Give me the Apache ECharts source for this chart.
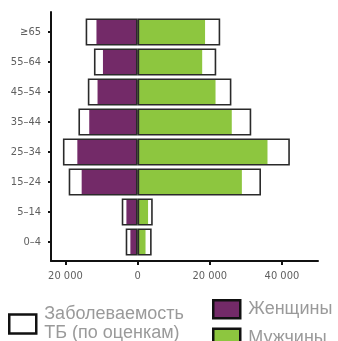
<!DOCTYPE html>
<html>
<head>
<meta charset="utf-8">
<script src="https://cdn.jsdelivr.net/npm/echarts@6/dist/echarts.min.js"></script>
<style>
  html, body { margin: 0; padding: 0; background: #fff; }
  #chart { width: 338px; height: 341px; }
</style>
</head>
<body>
<div id="chart"></div>
<script>
  // возрастные группы (снизу вверх)
  const ageGroups = ['0–4', '5–14', '15–24', '25–34', '35–44', '45–54', '55–64', '≥65'];
  // зарегистрированные случаи
  const women = [2000, 3100, 15500, 16700, 13400, 11100, 9600, 11400];
  const men = [2200, 2900, 28900, 36000, 26100, 21600, 17900, 18700];
  // заболеваемость по оценкам
  const estWomen = [3300, 4400, 19100, 20700, 16400, 13800, 12100, 14400];
  const estMen = [3900, 4200, 34200, 42200, 31500, 26000, 21800, 22900];
  const xTicks = [-20000, 0, 20000, 40000];

  const estName = 'Заболеваемость ТБ (по оценкам)';
  const narrow = "'Liberation Sans Narrow', 'DejaVu Sans Condensed', 'Liberation Sans', sans-serif";
  const labelColor = '#606060';
  const legendColor = '#9a9a9a';

  const fmt = (v) => {
    const s = String(Math.abs(v));
    return s.replace(/\B(?=(\d{3})+(?!\d))/g, ' ');
  };

  const myChart = echarts.init(document.getElementById('chart'));

  myChart.setOption({
    animation: false,
    grid: [
      // оси
      { left: 51, right: 20, top: 12, bottom: 80 },
      // столбцы
      { left: 51, right: 20, top: 17, bottom: 84 },
    ],
    xAxis: [
      {
        gridIndex: 0,
        type: 'value',
        min: -24000,
        max: 50000,
        splitLine: { show: false },
        axisLine: { show: true, onZero: false, lineStyle: { color: '#111', width: 2 } },
        axisTick: {
          show: true,
          length: 4,
          customValues: xTicks,
          lineStyle: { color: '#111', width: 2 },
        },
        axisLabel: {
          customValues: xTicks,
          formatter: fmt,
          color: labelColor,
          fontSize: 11,
          fontFamily: narrow,
          margin: 10,
        },
      },
      {
        gridIndex: 1,
        type: 'value',
        min: -24000,
        max: 50000,
        show: false,
      },
    ],
    yAxis: [
      {
        gridIndex: 0,
        type: 'value',
        min: 0,
        max: 1,
        axisLine: { show: true, onZero: false, lineStyle: { color: '#111', width: 2 } },
        axisTick: { show: false },
        axisLabel: { show: false },
        splitLine: { show: false },
      },
      {
        gridIndex: 1,
        type: 'category',
        data: ageGroups,
        axisLine: { show: false, onZero: false },
        axisTick: {
          show: true,
          alignWithLabel: true,
          length: 3,
          lineStyle: { color: '#111', width: 2 },
        },
        axisLabel: {
          color: labelColor,
          fontSize: 11,
          fontFamily: narrow,
          margin: 10,
        },
      },
      {
        gridIndex: 1,
        type: 'category',
        data: ageGroups,
        position: 'left',
        show: false,
      },
    ],
    legend: [
      {
        left: 8,
        top: 305,
        height: 60,
        padding: 0,
        selectedMode: false,
        itemWidth: 27,
        itemHeight: 19,
        icon: 'rect',
        data: [
          {
            name: estName,
            itemStyle: { color: '#fff', borderColor: '#111', borderWidth: 2.5 },
          },
        ],
        formatter: () => 'Заболеваемость\nТБ (по оценкам)',
        textStyle: {
          color: legendColor,
          fontSize: 18,
          lineHeight: 19,
          fontFamily: "'Liberation Sans', Arial, sans-serif",
          padding: [0, 0, 0, 3],
        },
      },
      {
        left: 212,
        top: 299,
        height: 80,
        padding: 0,
        orient: 'vertical',
        selectedMode: false,
        itemWidth: 27,
        itemHeight: 18,
        itemGap: 8,
        icon: 'rect',
        data: [
          {
            name: 'Женщины',
            itemStyle: { color: '#732a68', borderColor: '#111', borderWidth: 2.5 },
          },
          {
            name: 'Мужчины',
            itemStyle: { color: '#8dc63f', borderColor: '#111', borderWidth: 2.5 },
          },
        ],
        textStyle: {
          color: legendColor,
          fontSize: 18,
          lineHeight: 20,
          fontFamily: "'Liberation Sans', Arial, sans-serif",
          padding: [0, 0, 0, 3],
        },
      },
    ],
    series: [
      {
        name: 'Женщины',
        type: 'bar',
        stack: 'cases',
        xAxisIndex: 1,
        yAxisIndex: 2,
        barWidth: 25,
        data: women.map((v) => -v),
        itemStyle: { color: '#732a68' },
        z: 2,
      },
      {
        name: 'Мужчины',
        type: 'bar',
        stack: 'cases',
        xAxisIndex: 1,
        yAxisIndex: 2,
        barWidth: 25,
        data: men,
        itemStyle: { color: '#8dc63f' },
        z: 2,
      },
      {
        name: estName,
        type: 'bar',
        stack: 'est',
        xAxisIndex: 1,
        yAxisIndex: 1,
        barWidth: 27,
        data: estWomen.map((v) => -v),
        itemStyle: { color: 'rgba(0,0,0,0)', borderColor: '#2a2a2a', borderWidth: 1.6 },
        z: 3,
      },
      {
        name: estName,
        type: 'bar',
        stack: 'est',
        xAxisIndex: 1,
        yAxisIndex: 1,
        barWidth: 27,
        data: estMen,
        itemStyle: { color: 'rgba(0,0,0,0)', borderColor: '#2a2a2a', borderWidth: 1.6 },
        z: 3,
      },
    ],
  });

  window.addEventListener('resize', function () {
    myChart && myChart.resize();
  });
</script>
</body>
</html>
